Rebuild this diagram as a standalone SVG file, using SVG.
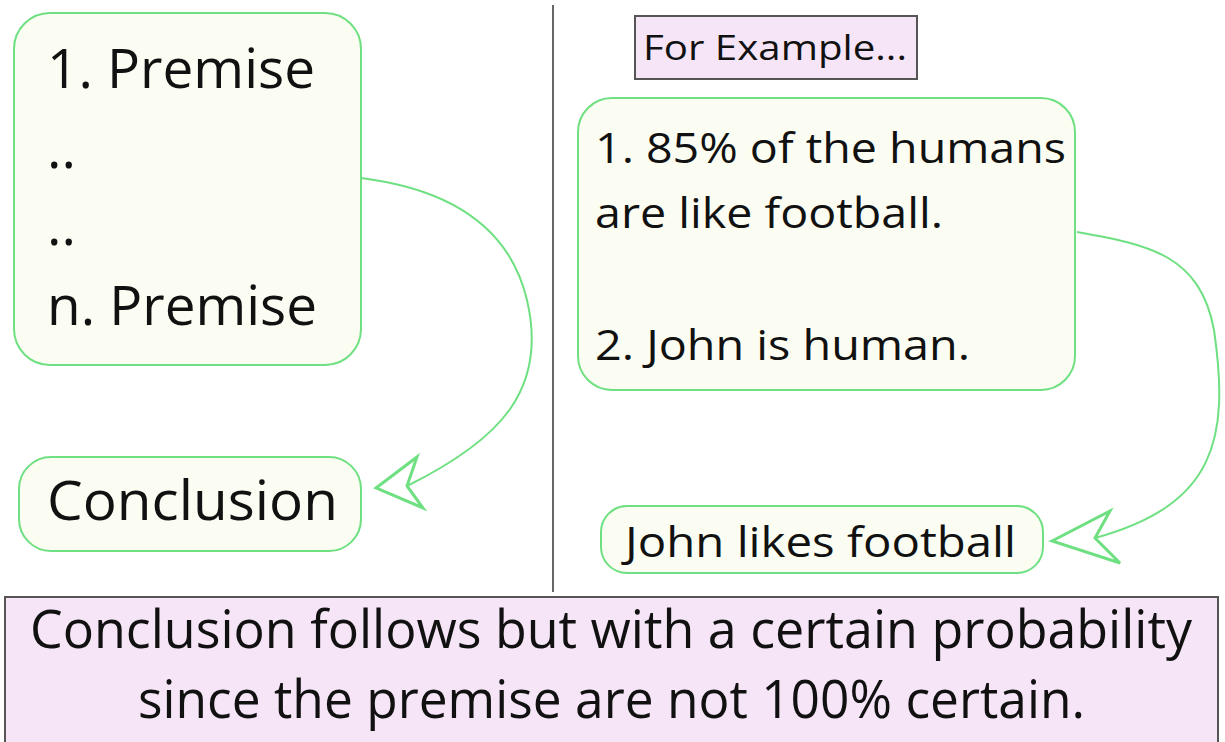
<svg xmlns="http://www.w3.org/2000/svg" width="1225" height="742" viewBox="0 0 1225 742">
<style>
.node{fill:#fbfdf2;stroke:#6fe082;stroke-width:2}
.purple{fill:#f5e5f6;stroke:#555;stroke-width:2}
.t{font-family:"Open Sans","Noto Sans","DejaVu Sans",sans-serif;fill:#111}
.conn{fill:none;stroke:#6fe082;stroke-width:2}
.head{fill:#fff;stroke:#6fe082;stroke-width:3;stroke-linejoin:miter}
</style>
<rect x="0" y="0" width="1225" height="742" fill="#fff"/>
<line x1="553" y1="5" x2="553" y2="592" stroke="#666" stroke-width="2"/>
<g id="premises">
<rect class="node" x="14" y="13" width="347" height="352" rx="36"/>
<text class="t" x="47" y="88" font-size="55" textLength="268" lengthAdjust="spacingAndGlyphs">1. Premise</text>
<text class="t" x="47" y="168" font-size="55">..</text>
<text class="t" x="47" y="245" font-size="55">..</text>
<text class="t" x="47" y="325" font-size="55" textLength="270" lengthAdjust="spacingAndGlyphs">n. Premise</text>
</g>
<g id="conclusion">
<rect class="node" x="19" y="457" width="342" height="94" rx="32"/>
<text class="t" x="47" y="520" font-size="55" textLength="291" lengthAdjust="spacingAndGlyphs">Conclusion</text>
</g>
<g id="example-label">
<rect class="purple" x="635" y="16" width="282" height="63"/>
<text class="t" x="643" y="60" font-size="34" textLength="264" lengthAdjust="spacingAndGlyphs">For Example...</text>
</g>
<g id="example-premises">
<rect class="node" x="578" y="98" width="497" height="292" rx="34"/>
<text class="t" x="595" y="163" font-size="42" textLength="471" lengthAdjust="spacingAndGlyphs">1. 85% of the humans</text>
<text class="t" x="595" y="228" font-size="42" textLength="348" lengthAdjust="spacingAndGlyphs">are like football.</text>
<text class="t" x="595" y="360" font-size="42" textLength="375" lengthAdjust="spacingAndGlyphs">2. John is human.</text>
</g>
<g id="example-conclusion">
<rect class="node" x="601" y="506" width="442" height="67" rx="26"/>
<text class="t" x="625" y="557" font-size="42" textLength="391" lengthAdjust="spacingAndGlyphs">John likes football</text>
</g>
<g id="summary">
<rect class="purple" x="5" y="597" width="1213" height="150"/>
<text class="t" x="30" y="648" font-size="53" textLength="1162" lengthAdjust="spacingAndGlyphs">Conclusion follows but with a certain probability</text>
<text class="t" x="138" y="718" font-size="53" textLength="947" lengthAdjust="spacingAndGlyphs">since the premise are not 100% certain.</text>
</g>
<g id="connectors">
<path class="conn" d="M361,178 C440,188 508,220 527,300 C548,390 500,440 407,486"/>
<path class="head" d="M376,488 L417,457 L407,486 L423,508 Z"/>
<path class="conn" d="M1077,232 C1150,245 1200,255 1214,330 C1230,440 1215,505 1095,538"/>
<path class="head" d="M1052,541 L1110,511 L1095,538 L1120,563 Z"/>
</g>
</svg>
